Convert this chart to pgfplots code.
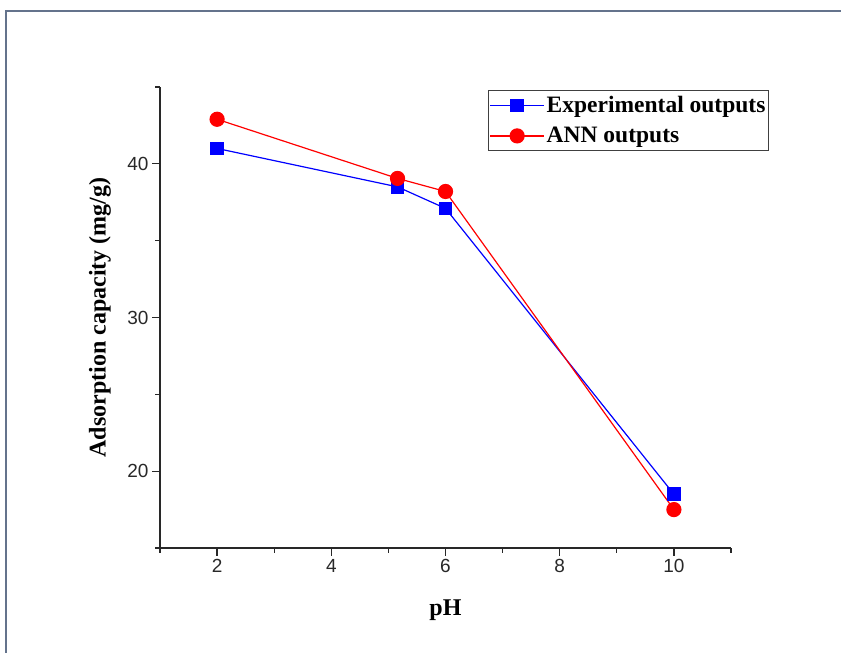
\documentclass[border=0pt]{standalone}
\usepackage{pgfplots}
\pgfplotsset{compat=1.18}
\usepackage{fontspec}
\setmainfont{Liberation Serif}
\newfontfamily\arial{Liberation Sans}
\definecolor{framec}{RGB}{100,115,140}
\definecolor{axc}{RGB}{40,40,40}
\begin{document}
\begin{tikzpicture}[x=1pt,y=1pt]
\useasboundingbox (0,0) rectangle (841,653);
\draw[framec, line width=2.5pt] (6,0) -- (6,642) -- (841,642);
\begin{axis}[
  at={(160pt,105pt)}, anchor=south west,
  width=571pt, height=461pt, scale only axis,
  xmin=1, xmax=11, ymin=15, ymax=45,
  axis x line*=bottom, axis y line*=left,
  axis line style={line width=1.3pt, color=axc},
  tick align=outside, tick style={line width=1.3pt, color=axc},
  major tick length=8pt, minor tick length=5pt,
  xtick={2,4,6,8,10}, ytick={20,30,40},
  minor xtick={1,3,5,7,9,11}, minor ytick={15,25,35,45},
  tick label style={font=\arial\fontsize{19}{21}\selectfont, text=axc},
  /pgf/number format/assume math mode=true,
  xlabel={pH}, ylabel={Adsorption capacity (mg/g)},
  label style={font=\fontsize{24}{27}\selectfont\bfseries},
  xlabel style={at={(axis description cs:0.5,-0.1345)}, anchor=center},
  ylabel style={at={(axis description cs:-0.105,0.5)}, anchor=center},
  legend cell align=left,
  legend style={at={(rel axis cs:1.0666,0.9935)}, anchor=north east,
    draw=black!75, line width=1.2pt, font=\fontsize{23.5}{26}\selectfont\bfseries,
    inner xsep=1pt, inner ysep=5pt, row sep=11pt,
    nodes={inner xsep=2pt, inner ysep=1pt}},
  legend image code/.code={\draw[mark repeat=2, mark phase=2] plot coordinates {(-2pt,0pt)(25pt,0pt)(52pt,0pt)};},
]
\addplot[color=blue, line width=1.2pt, mark=square*, mark size=6.2pt, mark options={solid}]
  coordinates {(2,41.0) (5.16,38.5) (6,37.1) (10,18.5)};
\addlegendentry{Experimental outputs}
\addplot[color=red, line width=1.2pt, mark=*, mark size=7pt, mark options={solid}]
  coordinates {(2,42.9) (5.16,39.05) (6,38.2) (10,17.5)};
\addlegendentry{ANN outputs}
\end{axis}
\end{tikzpicture}
\end{document}
